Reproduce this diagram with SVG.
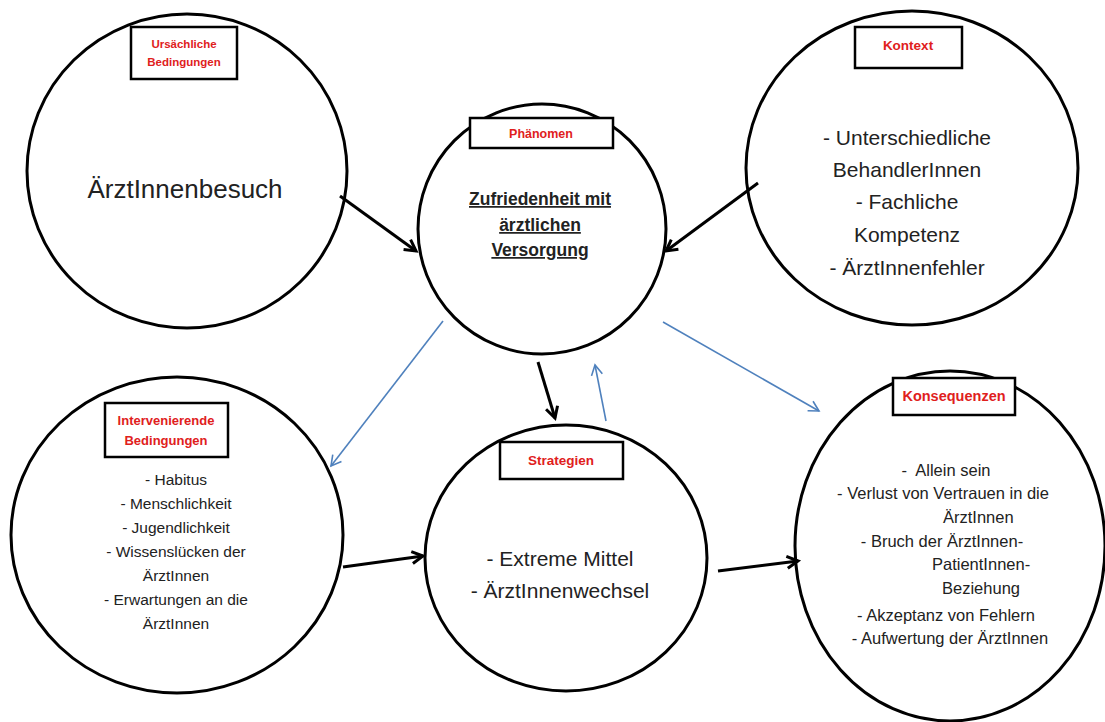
<svg xmlns="http://www.w3.org/2000/svg" width="1105" height="722" viewBox="0 0 1105 722">
<defs>
<style>
.c{fill:none;stroke:#000;stroke-width:3}
.b{fill:#fff;stroke:#000;stroke-width:2.5}
.lbl{font-family:"Liberation Sans",Arial,sans-serif;font-weight:bold;fill:#e0201c;text-anchor:middle}
.t{font-family:"Liberation Sans",Arial,sans-serif;fill:#222;text-anchor:middle}
.ts{font-family:"Liberation Sans",Arial,sans-serif;fill:#222}
.ph{font-family:"Liberation Sans",Arial,sans-serif;font-weight:bold;fill:#222;text-anchor:middle;text-decoration:underline;font-size:17.5px}
.k{fill:none;stroke:#000;stroke-width:3}
.bl{fill:none;stroke:#4f81bd;stroke-width:1.6}
</style>
<marker id="ak" viewBox="0 0 16 16" refX="13" refY="8" markerWidth="16" markerHeight="16" markerUnits="userSpaceOnUse" orient="auto" overflow="visible">
<path d="M2,2 L13,8 L2,14" fill="none" stroke="#000" stroke-width="3" stroke-linejoin="miter"/>
</marker>
<marker id="ab" viewBox="0 0 14 14" refX="12" refY="7" markerWidth="14" markerHeight="14" markerUnits="userSpaceOnUse" orient="auto" overflow="visible">
<path d="M2,1.5 L12,7 L2,12.5" fill="none" stroke="#4f81bd" stroke-width="1.6"/>
</marker>
</defs>
<rect width="1105" height="722" fill="#fff"/>

<g id="connectors">
<line class="k" x1="340" y1="196" x2="416" y2="251" marker-end="url(#ak)"/>
<line class="k" x1="758" y1="183" x2="666" y2="251" marker-end="url(#ak)"/>
<line class="k" x1="538" y1="362" x2="555" y2="418" marker-end="url(#ak)"/>
<line class="k" x1="343" y1="567" x2="423" y2="556" marker-end="url(#ak)"/>
<line class="k" x1="718" y1="571" x2="798" y2="561" marker-end="url(#ak)"/>
<line class="bl" x1="443" y1="321" x2="331" y2="466" marker-end="url(#ab)"/>
<line class="bl" x1="606" y1="421" x2="595" y2="365" marker-end="url(#ab)"/>
<line class="bl" x1="663" y1="322" x2="819" y2="411" marker-end="url(#ab)"/>
</g>

<g id="ursaechliche">
<ellipse class="c" cx="187" cy="171" rx="160" ry="157"/>
<rect class="b" x="131" y="27" width="106" height="52"/>
<text class="lbl" x="184" y="48" font-size="11.5">Ursächliche</text>
<text class="lbl" x="184" y="66" font-size="11.5">Bedingungen</text>
<text class="t" x="185" y="198" font-size="26">ÄrztInnenbesuch</text>
</g>

<g id="phaenomen">
<ellipse class="c" cx="542" cy="229" rx="124" ry="125"/>
<rect class="b" x="470" y="118" width="143" height="30"/>
<text class="lbl" x="541" y="138" font-size="12.5">Phänomen</text>
<text class="ph" x="540" y="205">Zufriedenheit mit</text>
<text class="ph" x="540" y="231">ärztlichen</text>
<text class="ph" x="540" y="256">Versorgung</text>
</g>

<g id="kontext">
<ellipse class="c" cx="912" cy="168" rx="166" ry="157"/>
<rect class="b" x="855" y="27" width="107" height="41"/>
<text class="lbl" x="908" y="50" font-size="13.5">Kontext</text>
<text class="t" x="907" y="145" font-size="21">- Unterschiedliche</text>
<text class="t" x="907" y="177" font-size="21">BehandlerInnen</text>
<text class="t" x="907" y="209" font-size="21">- Fachliche</text>
<text class="t" x="907" y="242" font-size="21">Kompetenz</text>
<text class="t" x="907" y="275" font-size="21">- ÄrztInnenfehler</text>
</g>

<g id="intervenierende">
<ellipse class="c" cx="177" cy="535" rx="166" ry="158"/>
<rect class="b" x="105" y="403" width="123" height="54"/>
<text class="lbl" x="166" y="425" font-size="13">Intervenierende</text>
<text class="lbl" x="166" y="445" font-size="13">Bedingungen</text>
<text class="t" x="176" y="485" font-size="15.5">- Habitus</text>
<text class="t" x="176" y="509" font-size="15.5">- Menschlichkeit</text>
<text class="t" x="176" y="533" font-size="15.5">- Jugendlichkeit</text>
<text class="t" x="176" y="557" font-size="15.5">- Wissenslücken der</text>
<text class="t" x="176" y="581" font-size="15.5">ÄrztInnen</text>
<text class="t" x="176" y="605" font-size="15.5">- Erwartungen an die</text>
<text class="t" x="176" y="629" font-size="15.5">ÄrztInnen</text>
</g>

<g id="strategien">
<ellipse class="c" cx="566" cy="558" rx="141" ry="133"/>
<rect class="b" x="500" y="442" width="123" height="37"/>
<text class="lbl" x="561" y="465" font-size="13.5">Strategien</text>
<text class="t" x="560" y="566" font-size="21">- Extreme Mittel</text>
<text class="t" x="560" y="598" font-size="21">- ÄrztInnenwechsel</text>
</g>

<g id="konsequenzen">
<ellipse class="c" cx="950" cy="546" rx="155" ry="175"/>
<rect class="b" x="893" y="378" width="122" height="37"/>
<text class="lbl" x="954" y="401" font-size="14.5">Konsequenzen</text>
<text class="t" x="946" y="476" font-size="16.5" xml:space="preserve">-  Allein sein</text>
<text class="t" x="943" y="499" font-size="16.5">- Verlust von Vertrauen in die</text>
<text class="ts" x="943" y="523" font-size="16.5">ÄrztInnen</text>
<text class="t" x="942" y="547" font-size="16.5">- Bruch der ÄrztInnen-</text>
<text class="ts" x="932" y="570" font-size="16.5">PatientInnen-</text>
<text class="ts" x="942" y="594" font-size="16.5">Beziehung</text>
<text class="t" x="946" y="621" font-size="16.5">- Akzeptanz von Fehlern</text>
<text class="t" x="950" y="644" font-size="16.5">- Aufwertung der ÄrztInnen</text>
</g>
</svg>
